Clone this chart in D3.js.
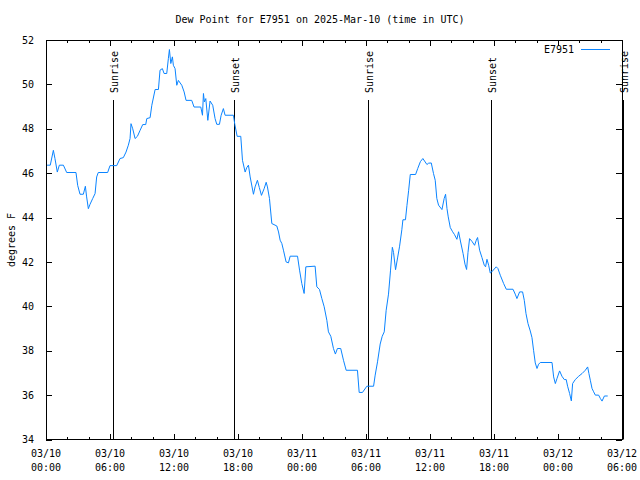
<!DOCTYPE html>
<html>
<head>
<meta charset="utf-8">
<script src="https://cdn.jsdelivr.net/npm/d3@7"></script>
<style>
  html, body { margin: 0; padding: 0; background: #fff; }
  text { font-family: "DejaVu Sans Mono", "Liberation Mono", monospace; font-size: 10px; fill: #000; }
</style>
</head>
<body>
<svg id="chart" width="640" height="480"></svg>
<script>
// ---- data (hours since 2025-03-10 00:00 UTC, dew point in °F) ----
const hours = [
  0.1,0.4,0.69,0.84,1.06,1.25,1.63,1.94,2.81,2.97,3.19,3.5,3.69,3.81,3.97,4.13,4.38,4.6,4.75,4.9,
  5.78,6.0,6.63,6.94,7.25,7.5,7.72,7.88,7.97,8.13,8.35,8.57,8.82,9.07,9.35,9.45,9.76,9.92,10.23,10.54,
  10.69,10.91,11.07,11.32,11.47,11.57,11.7,11.85,11.94,12.1,12.26,12.41,12.73,12.95,13.13,13.66,13.88,14.51,14.67,14.76,
  14.85,14.98,15.17,15.38,15.63,15.85,16.01,16.26,16.42,16.63,16.79,17.57,17.7,17.92,18.26,18.42,18.67,18.82,18.98,19.14,
  19.45,19.6,19.82,20.0,20.2,20.45,20.64,20.76,20.95,21.17,21.64,21.8,21.95,22.11,22.26,22.51,22.73,22.89,23.58,23.77,
  23.98,24.2,24.36,25.23,25.39,25.64,25.86,26.08,26.33,26.48,26.7,26.95,27.13,27.32,27.63,27.89,28.14,29.2,29.36,29.67,
  30.08,30.71,30.86,31.08,31.33,31.52,31.71,31.89,32.11,32.3,32.47,32.58,32.77,32.96,33.15,33.36,33.46,33.7,33.84,34.0,
  34.15,34.65,34.85,35.1,35.33,35.71,35.87,36.12,36.33,36.49,36.64,36.8,37.12,37.33,37.46,37.59,37.71,37.9,38.12,38.3,
  38.52,38.68,38.87,39.1,39.28,39.43,39.56,39.71,39.93,40.18,40.34,40.46,40.65,40.87,41.09,41.21,41.34,41.5,41.65,41.78,
  42.21,42.37,42.59,42.9,43.15,43.78,43.99,44.15,44.4,44.68,44.84,45.0,45.19,45.4,45.56,45.71,45.87,46.03,46.18,46.34,
  47.44,47.59,47.75,47.9,48.15,48.37,48.59,48.77,48.9,49.09,49.25,49.37,49.62,49.94,50.25,50.56,50.78,50.9,51.03,51.19,
  51.34,51.5,51.81,51.97,52.13,52.35,52.66
];
const dewPoint = [
  46.36,46.36,47.03,46.66,46.05,46.36,46.36,46.03,46.03,45.45,45.05,45.05,45.41,44.93,44.4,44.6,44.86,45.08,45.83,46.03,
  46.03,46.34,46.34,46.66,46.7,46.95,47.26,47.56,48.23,48.0,47.56,47.66,47.93,48.19,48.19,48.46,48.5,49.06,49.77,49.77,
  50.64,50.71,50.49,50.49,51.16,51.57,50.94,51.24,50.86,50.71,49.96,50.18,49.96,49.66,49.28,49.28,48.98,48.98,48.61,49.59,
  49.21,49.36,48.38,49.25,49.06,48.46,48.2,48.2,48.61,48.91,48.61,48.61,48.2,47.66,47.66,46.58,46.05,46.25,46.36,45.83,
  45.05,45.38,45.68,45.35,45.0,45.3,45.59,45.38,44.86,43.73,43.62,43.35,42.98,42.83,42.53,42.0,41.96,42.26,42.26,41.63,
  41.03,40.58,41.78,41.81,40.88,40.76,40.35,39.98,39.37,38.85,38.65,38.1,37.85,38.1,38.1,37.57,37.12,37.12,36.12,36.12,
  36.4,36.4,36.9,37.5,38.3,38.65,38.85,39.82,40.55,41.63,42.66,42.43,41.65,42.18,42.71,43.45,43.9,43.9,44.55,45.23,
  45.94,45.94,46.21,46.52,46.66,46.39,46.45,46.46,45.98,45.68,44.86,44.56,44.36,44.86,45.05,44.41,44.03,43.55,43.36,43.23,
  43.02,43.36,42.9,42.38,41.9,41.66,42.42,43.05,42.93,42.75,42.98,43.1,42.53,42.2,41.85,41.78,42.12,41.85,41.5,41.55,
  41.78,41.7,41.4,41.03,40.77,40.77,40.55,40.35,40.65,40.65,40.27,39.67,39.22,38.89,38.59,38.02,37.45,37.2,37.39,37.47,
  37.47,36.82,36.52,36.74,37.09,36.85,36.7,36.7,36.4,36.07,35.74,36.52,36.7,36.85,36.97,37.12,37.27,36.97,36.67,36.3,
  36.15,36.0,36.0,35.85,35.73,35.96,35.96
];
const sunEventHours  = [6.31, 17.66, 30.23, 41.68, 54.1];
const sunEventLabels = ["Sunrise", "Sunset", "Sunrise", "Sunset", "Sunrise"];
const yTicks = [34, 36, 38, 40, 42, 44, 46, 48, 50, 52];
const seriesName = "E7951";
const titleText = "Dew Point for E7951 on 2025-Mar-10 (time in UTC)";
const yLabel = "degrees F";

(function draw() {
  // ---- layout ----
  const pL = 46, pR = 622, pT = 40, pB = 439.5;
  const t0 = Date.UTC(2025, 2, 10, 0);
  const toDate = h => new Date(t0 + h * 3600e3);

  const x = d3.scaleUtc().domain([toDate(0), toDate(54)]).range([pL, pR]);
  const y = d3.scaleLinear().domain([34, 52]).range([pB, pT]);

  const svg = d3.select("#chart");

  svg.append("text").attr("x", 320).attr("y", 23).attr("text-anchor", "middle").text(titleText);

  svg.append("text").attr("transform", "translate(15,240) rotate(-90)")
    .attr("text-anchor", "middle").text(yLabel);

  const majorTimes = d3.range(0, 55, 6).map(toDate);
  const minorTimes = d3.range(0, 55, 2).filter(h => h % 6 !== 0).map(toDate);

  function clean(g) {
    g.select(".domain").remove();
    g.selectAll("line").attr("stroke", "#000").attr("shape-rendering", "crispEdges");
  }

  svg.append("g").attr("transform", `translate(0,${pB})`)
    .call(d3.axisBottom(x).tickValues(majorTimes).tickSize(-6).tickFormat(""))
    .call(clean);
  svg.append("g").attr("transform", `translate(0,${pB})`)
    .call(d3.axisBottom(x).tickValues(minorTimes).tickSize(-3).tickFormat(""))
    .call(clean);
  svg.append("g").attr("transform", `translate(0,${pT})`)
    .call(d3.axisTop(x).tickValues(majorTimes).tickSize(-6).tickFormat(""))
    .call(clean);
  svg.append("g").attr("transform", `translate(0,${pT})`)
    .call(d3.axisTop(x).tickValues(minorTimes).tickSize(-3).tickFormat(""))
    .call(clean);
  svg.append("g").attr("transform", `translate(${pL},0)`)
    .call(d3.axisLeft(y).tickValues(yTicks).tickSize(-6).tickPadding(12).tickFormat(d3.format("d")))
    .call(clean)
    .call(g => g.selectAll("text").attr("font-family", null).attr("font-size", null).attr("fill", "#000"));
  svg.append("g").attr("transform", `translate(${pR},0)`)
    .call(d3.axisRight(y).tickValues(yTicks).tickSize(-6).tickFormat(""))
    .call(clean);

  const fmtDay = d3.utcFormat("%m/%d"), fmtTime = d3.utcFormat("%H:%M");
  const xl = svg.append("g").selectAll("text").data(majorTimes).join("text")
    .attr("text-anchor", "middle")
    .attr("transform", d => `translate(${x(d)},0)`);
  xl.append("tspan").attr("x", 0).attr("y", 457).text(d => fmtDay(d));
  xl.append("tspan").attr("x", 0).attr("y", 471).text(d => fmtTime(d));

  svg.append("rect").attr("x", pL).attr("y", pT).attr("width", pR - pL).attr("height", pB - pT)
    .attr("fill", "none").attr("stroke", "#000").attr("shape-rendering", "crispEdges");

  const ev = svg.append("g").selectAll("g")
    .data(sunEventHours.map((h, i) => ({ h, label: sunEventLabels[i] }))).join("g");
  ev.append("line")
    .attr("x1", d => Math.round(x(toDate(d.h))) + 0.5).attr("x2", d => Math.round(x(toDate(d.h))) + 0.5)
    .attr("y1", 100).attr("y2", pB).attr("stroke", "#000");
  ev.append("text")
    .attr("transform", d => `translate(${x(toDate(d.h)) + 5},93) rotate(-90)`)
    .attr("text-anchor", "start").text(d => d.label);

  const pts = hours.map((h, i) => [toDate(h), dewPoint[i]]);
  svg.append("path").datum(pts)
    .attr("fill", "none").attr("stroke", "#0a84ff").attr("stroke-width", 1)
    .attr("d", d3.line().x(d => x(d[0])).y(d => y(d[1])));

  svg.append("text").attr("x", 574).attr("y", 53).attr("text-anchor", "end").text(seriesName);
  svg.append("line").attr("x1", 581).attr("x2", 610).attr("y1", 49.5).attr("y2", 49.5)
    .attr("stroke", "#0a84ff");
})();
</script>
</body>
</html>
